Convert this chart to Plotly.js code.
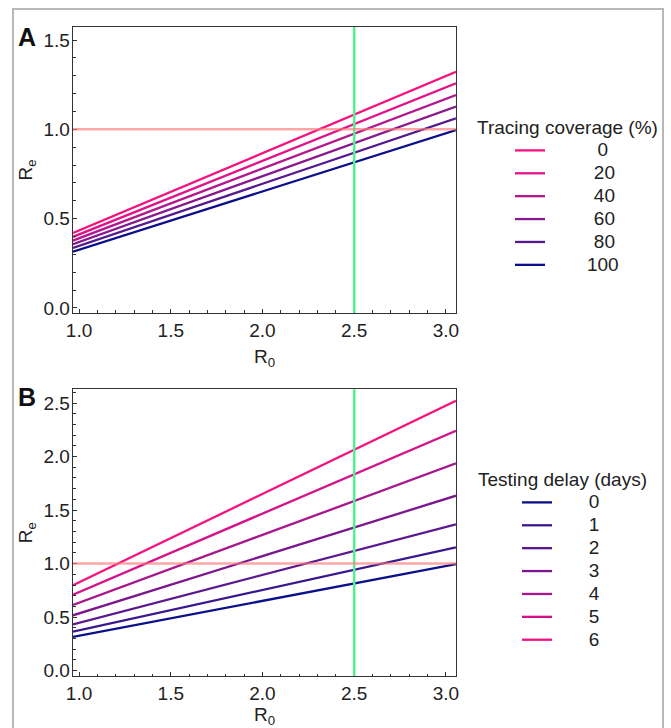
<!DOCTYPE html>
<html>
<head>
<meta charset="utf-8">
<script src="https://cdn.plot.ly/plotly-3.0.1.min.js"></script>
<style>
  html, body { margin: 0; padding: 0; background: #fff; }
  #wrap { position: relative; width: 671px; height: 728px; overflow: hidden; }
  #chart { position: absolute; left: 0; top: 0; width: 671px; height: 728px; }
  #frame { position: absolute; left: 12px; top: 8px; width: 648px; height: 740px;
           border: 2px solid #b8b8b8; pointer-events: none; z-index: 10; }
</style>
</head>
<body>
<div id="wrap">
  <div id="chart"></div>
  <div id="frame"></div>
</div>
<script>
// ---------------- data ----------------
// R0 values at the left and right edges of the plot, where Re was read
const r0Points = [0.967, 3.055];

// Panel A: tracing coverage (%)
const coverageLabels = ['0', '20', '40', '60', '80', '100'];
const coverageRe = [
  [0.419, 1.322],
  [0.398, 1.258],
  [0.377, 1.192],
  [0.357, 1.127],
  [0.336, 1.062],
  [0.315, 0.996]
];
const coverageColors = ['#f5127f', '#e2128a', '#b4188f', '#88188f', '#54198e', '#0c0f8a'];

// Panel B: testing delay (days)
const delayLabels = ['0', '1', '2', '3', '4', '5', '6'];
const delayRe = [
  [0.315, 0.995],
  [0.364, 1.151],
  [0.432, 1.366],
  [0.517, 1.634],
  [0.613, 1.936],
  [0.709, 2.241],
  [0.798, 2.521]
];
const delayColors = ['#0c0f8a', '#3a168f', '#5c188f', '#7c168e', '#a8168c', '#d4128a', '#f5127f'];

// reference lines
const baselineR0 = 2.5;   // vertical green line
const thresholdRe = 1.0;  // horizontal pink line

const xTickVals = [1.0, 1.5, 2.0, 2.5, 3.0];
const yTickValsA = [0.0, 0.5, 1.0, 1.5];
const yTickValsB = [0.0, 0.5, 1.0, 1.5, 2.0, 2.5];

// ---------------- helpers ----------------
const FS = 19;
const FONT = 'Liberation Sans, Arial, sans-serif';
const W = 671, H = 728;
const FSP = '\u2007', PSP = '\u2008';

function span(t) { return '<span style="font-size:' + FS + 'px">' + t + '</span>'; }

function padLabel(s, kind) {
  let pad;
  if (kind === 'A') {
    if (s.length === 1) pad = FSP + FSP + FSP + FSP + PSP;
    else if (s.length === 2) pad = FSP + FSP + FSP + FSP + '\u200A';
    else pad = FSP + FSP + FSP + PSP;
  } else {
    pad = FSP + FSP + FSP;
  }
  return span(pad + s);
}

const traces = [];
coverageLabels.forEach((lab, i) => {
  traces.push({
    type: 'scatter', mode: 'lines',
    x: r0Points, y: coverageRe[i],
    xaxis: 'x', yaxis: 'y',
    name: padLabel(lab, 'A'),
    legend: 'legend',
    line: { color: coverageColors[i], width: 2.3 },
    hoverinfo: 'skip'
  });
});
delayLabels.forEach((lab, i) => {
  traces.push({
    type: 'scatter', mode: 'lines',
    x: r0Points, y: delayRe[i],
    xaxis: 'x2', yaxis: 'y2',
    name: padLabel(lab, 'B'),
    legend: 'legend2',
    line: { color: delayColors[i], width: 2.3 },
    hoverinfo: 'skip'
  });
});

const xDomain = [73 / W, 456 / W];
const domA = [1 - 312.7 / H, 1 - 27 / H];
const domB = [1 - 676 / H, 1 - 389.3 / H];

function xAxis(anchor) {
  return {
    domain: xDomain, anchor: anchor,
    range: [0.967, 3.055],
    tickvals: xTickVals, tickformat: '.1f',
    ticks: 'inside', ticklen: 4, tickwidth: 1, tickcolor: '#333',
    minor: { ticks: 'inside', dtick: 0.1, tick0: 1.0, ticklen: 2.5, tickcolor: '#333', showgrid: false },
    showline: true, linecolor: '#333', linewidth: 1.3, mirror: true,
    showgrid: false, zeroline: false,
    tickfont: { family: FONT, size: FS, color: '#222' },
    title: { text: 'R<sub>0</sub>', font: { family: FONT, size: FS, color: '#222' }, standoff: 10 },
    automargin: false, fixedrange: true
  };
}
function yAxis(anchor, dom, range, tv) {
  return {
    domain: dom, anchor: anchor,
    range: range,
    tickvals: tv, tickformat: '.1f',
    ticks: 'inside', ticklen: 4, tickwidth: 1, tickcolor: '#333',
    ticklabelstandoff: -2,
    minor: { ticks: 'inside', dtick: 0.1, tick0: 0, ticklen: 2.5, tickcolor: '#333', showgrid: false },
    showline: true, linecolor: '#333', linewidth: 1.3, mirror: true,
    showgrid: false, zeroline: false,
    tickfont: { family: FONT, size: FS, color: '#222' },
    title: { text: 'R<sub>e</sub>', font: { family: FONT, size: FS, color: '#222' }, standoff: 5 },
    automargin: false, fixedrange: true
  };
}

const shapes = [];
[['x', 'y'], ['x2', 'y2']].forEach(([xa, ya]) => {
  shapes.push({
    type: 'line', layer: 'above', xref: xa, yref: ya + ' domain',
    x0: baselineR0, x1: baselineR0, y0: 0, y1: 1,
    line: { color: '#52f08e', width: 2.5 }
  });
  shapes.push({
    type: 'line', layer: 'above', xref: xa + ' domain', yref: ya,
    x0: 0, x1: 1, y0: thresholdRe, y1: thresholdRe,
    line: { color: 'rgba(255,120,120,0.65)', width: 2.5 }
  });
});

const legendCommon = {
  xanchor: 'left', yanchor: 'top',
  font: { family: FONT, size: 15.3, color: '#222' },
  bgcolor: 'rgba(0,0,0,0)', borderwidth: 0,
  tracegroupgap: 0, itemwidth: 30,
  itemclick: false, itemdoubleclick: false
};

const layout = {
  width: W, height: H,
  margin: { l: 0, r: 0, t: 0, b: 0, pad: 0 },
  paper_bgcolor: '#fff', plot_bgcolor: '#fff',
  showlegend: true,
  xaxis: xAxis('y'),
  yaxis: yAxis('x', domA, [-0.027, 1.573], yTickValsA),
  xaxis2: xAxis('y2'),
  yaxis2: yAxis('x2', domB, [-0.05, 2.628], yTickValsB),
  legend: Object.assign({}, legendCommon, {
    x: 475 / W, y: 1 - 106 / H,
    indentation: 35,
    title: { text: span('Tracing coverage (%)'), font: { family: FONT, size: 21.5, color: '#222' } }
  }),
  legend2: Object.assign({}, legendCommon, {
    x: 476 / W, y: 1 - 458 / H,
    indentation: 41,
    title: { text: span('Testing delay (days)'), font: { family: FONT, size: 21.5, color: '#222' } }
  }),
  shapes: shapes,
  annotations: [
    { text: '<b>A</b>', xref: 'paper', yref: 'paper', x: 16 / W, y: 1 - 37 / H,
      xanchor: 'left', yanchor: 'middle', showarrow: false,
      font: { family: FONT, size: 25, color: '#111' } },
    { text: '<b>B</b>', xref: 'paper', yref: 'paper', x: 16 / W, y: 1 - 397 / H,
      xanchor: 'left', yanchor: 'middle', showarrow: false,
      font: { family: FONT, size: 25, color: '#111' } }
  ]
};

Plotly.newPlot('chart', traces, layout, { displayModeBar: false, staticPlot: true });
</script>
</body>
</html>
